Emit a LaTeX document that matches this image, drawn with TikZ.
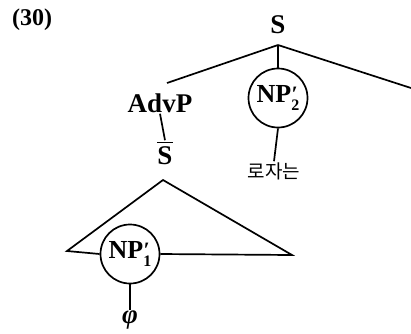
\documentclass[tikz,border=0pt]{standalone}
\usepackage{amsmath}
\usepackage{fontspec}
\setmainfont{Liberation Serif}
\newfontfamily\kofont{Noto Sans CJK KR}
\usetikzlibrary{positioning}
\newcommand{\npmark}[1]{NP\rlap{\raisebox{0.05em}{\fontsize{22}{22}\selectfont\textit{′}}}\raisebox{-0.28em}{\fontsize{16}{16}\selectfont #1}}

\begin{document}
\begin{tikzpicture}[x=1pt, y=-1pt,
    lab/.style={font=\fontsize{27}{30}\selectfont\bfseries, inner sep=1pt},
    ring/.style={draw, circle, line width=1.7pt, minimum size=59pt,
      inner sep=0pt, font=\fontsize{26}{30}\selectfont\bfseries},
    br/.style={line width=1.7pt},
  ]
  \useasboundingbox (0,0) rectangle (411,333);
  % Number and root
  \node[lab, font=\fontsize{24}{28}\selectfont\bfseries] (num) at (32,20) {(30)};
  \node[lab] (s) at (278,25) {S};
  \coordinate (sroot) at (278,45);
  \coordinate (rt) at (411,88);
  % Daughters of S
  \node[lab] (advp) at (160,103) {AdvP};
  \node[lab] (sbar) at (165,153) {$\overline{\text{S}}$};
  \node[ring] (np2) at (278,98) {\npmark{2}};
  \node[font=\kofont\fontsize{19}{22}\selectfont, inner sep=1pt] (rozi)
    at (274,171) {로자는};
  % Embedded S
  \coordinate (tapex) at (163,180);
  \coordinate (tl) at (67,251);
  \coordinate (tr) at (292,255);
  \node[ring] (np1) at (130,254) {\npmark{1}};
  \node[lab] (phi) at (130,320) {\textit{φ}};

  % Branches
  \draw[br] (sroot) -- (167,83);
  \draw[br] (sroot) -- (np2.north);
  \draw[br] (sroot) -- (rt);
  \draw[br] (advp.south) -- (sbar.north);
  \draw[br] (np2.south) -- (rozi.north);
  \draw[br] (np1.west) -- (tl) -- (tapex) -- (tr) -- (np1.east);
  \draw[br] (np1.south) -- (phi.north);
\end{tikzpicture}
\end{document}
